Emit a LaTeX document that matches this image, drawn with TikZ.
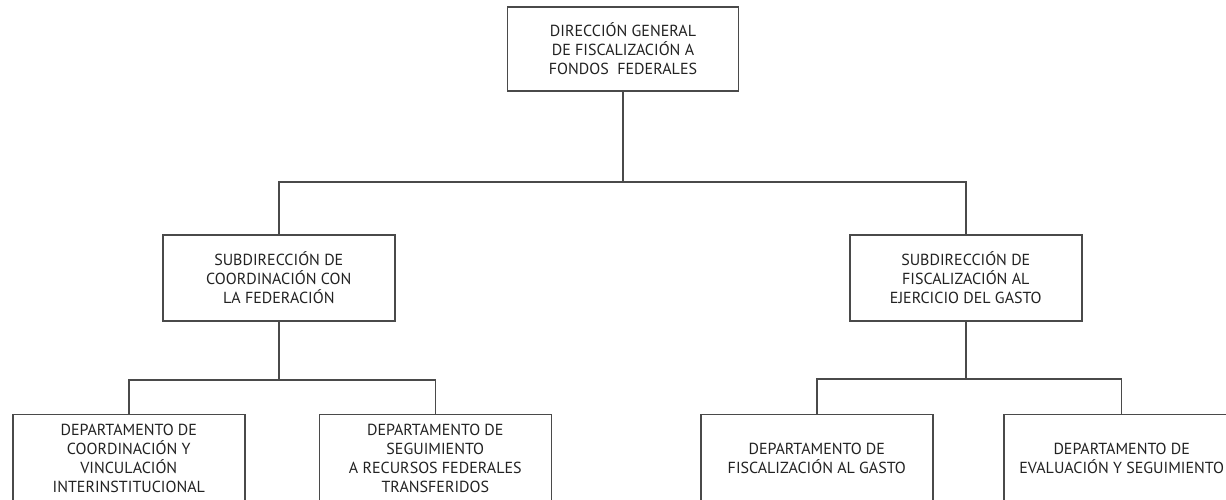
\documentclass[tikz,border=0pt]{standalone}
\usepackage{fontspec}
\setmainfont{PT Sans}
\begin{document}
\begin{tikzpicture}[x=1pt,y=-1pt,
  orgbox/.style={draw=linegray, line width=1.5pt, fill=white, minimum width=232pt, inner sep=0pt,
    align=center, text=textgray, font=\fontsize{16}{19}\selectfont},
  conn/.style={draw=linegray, line width=1.5pt}]
\definecolor{linegray}{HTML}{4A4A4A}
\definecolor{textgray}{HTML}{222222}
\useasboundingbox (0,0) rectangle (1226,499);
\clip (0,0) rectangle (1226,499);
\fill[white] (0,0) rectangle (1226,499);
% nodes
\node[orgbox, minimum width=231pt, minimum height=84pt] (top) at (623,49) {DIRECCIÓN GENERAL\\DE FISCALIZACIÓN A\\FONDOS\ \ FEDERALES};
\node[orgbox, minimum height=86pt] (sl) at (278.8,278) {SUBDIRECCIÓN DE\\COORDINACIÓN CON\\LA FEDERACIÓN};
\node[orgbox, minimum height=86pt] (sr) at (965.8,278) {SUBDIRECCIÓN DE\\FISCALIZACIÓN AL\\EJERCICIO DEL GASTO};
\node[orgbox, minimum height=88pt] (b1) at (128.8,458.5) {DEPARTAMENTO DE\\COORDINACIÓN Y\\VINCULACIÓN\\INTERINSTITUCIONAL};
\node[orgbox, minimum height=88pt] (b2) at (435.3,458.5) {DEPARTAMENTO DE\\SEGUIMIENTO\\A RECURSOS FEDERALES\\TRANSFERIDOS};
\node[orgbox, minimum height=88pt] (b3) at (816.8,458.5) {DEPARTAMENTO DE\\FISCALIZACIÓN AL GASTO};
\node[orgbox, minimum height=88pt, minimum width=235pt] (b4) at (1121.7,458.5) {DEPARTAMENTO DE\\EVALUACIÓN Y SEGUIMIENTO};
% junctions
\coordinate (j1) at (623,182);
\coordinate (j2) at (278.8,380);
\coordinate (j3) at (965.8,379);
% connectors
\draw[conn] (top.south) -- (j1);
\draw[conn] (sl.north) |- (j1) -| (sr.north);
\draw[conn] (sl.south) -- (j2);
\draw[conn] (b1.north) |- (j2) -| (b2.north);
\draw[conn] (sr.south) -- (j3);
\draw[conn] (b3.north) |- (j3) -| (b4.north);
\end{tikzpicture}
\end{document}
